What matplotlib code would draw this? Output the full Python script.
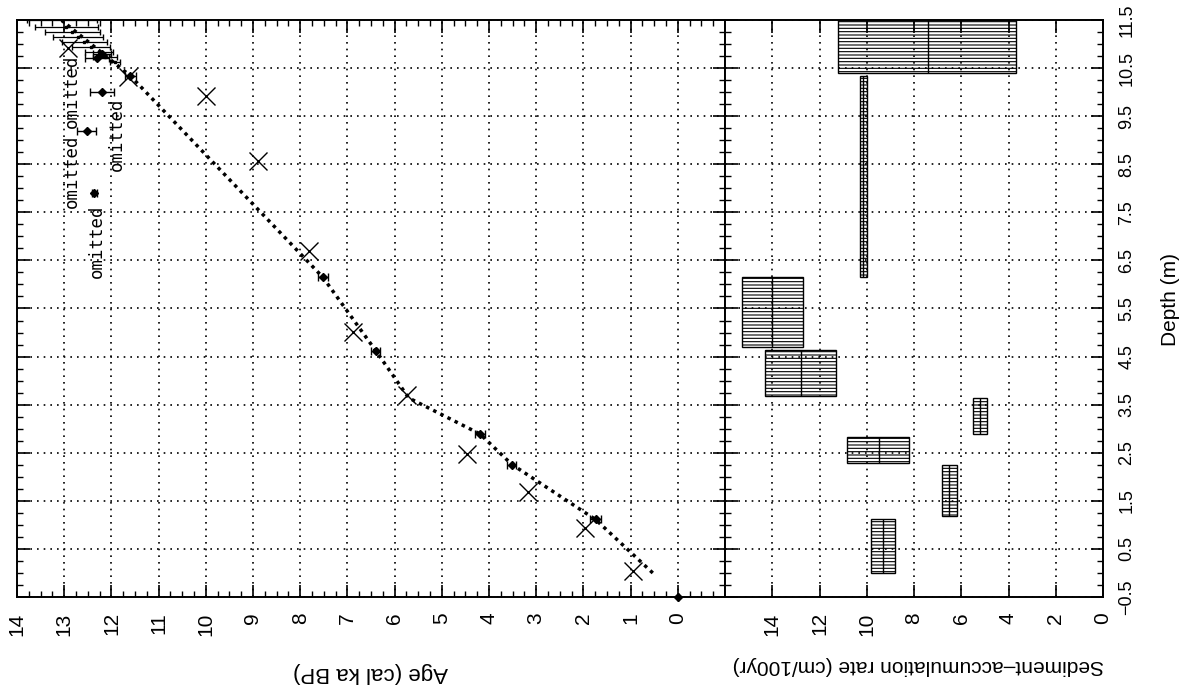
import numpy as np
import matplotlib.pyplot as plt
from matplotlib.ticker import FixedLocator, FixedFormatter, MultipleLocator

# Use Agg backend for headless environments
plt.switch_backend('Agg')
plt.rcParams['font.family'] = ['Liberation Sans', 'DejaVu Sans']
plt.rcParams['hatch.linewidth'] = 0.8

# radiocarbon ages (crosses), ka / m
c14_age = [0.95, 1.97, 3.18, 4.47, 5.74, 6.89, 7.82, 8.90, 10.0, 11.65, 12.92]
c14_depth = [0.04, 0.94, 1.68, 2.47, 3.70, 5.02, 6.70, 8.56, 9.92, 10.32, 10.92]

# age-depth model nodes
model_depth = [0.0, 1.11, 2.26, 2.89, 3.64, 4.65, 6.15, 10.34, 11.49]
model_age = [0.53, 1.74, 3.52, 4.19, 5.70, 6.42, 7.52, 11.60, 13.05]

# calibrated dates used by the model
cal_depth = [-0.5, 1.12, 2.25, 2.90, 4.62, 6.15, 10.34, 10.70, 10.80]
cal_age = [0.0, 1.74, 3.52, 4.19, 6.40, 7.52, 11.60, 12.30, 12.20]
cal_err = [0.0, 0.12, 0.10, 0.10, 0.10, 0.10, 0.12, 0.25, 0.20]

# model uncertainty at the base of the core
unc_depth = [10.63, 10.73, 10.84, 10.94, 11.05, 11.15, 11.26, 11.36, 11.49]
unc_old = [12.03, 12.39, 12.56, 12.84, 13.05, 13.24, 13.41, 13.62, 13.79]
unc_young = [11.82, 11.89, 11.97, 12.03, 12.10, 12.18, 12.25, 12.29, 12.31]

# omitted dates
om_depth = [10.0, 9.19, 7.91]
om_age = [12.2, 12.52, 12.36]
om_err = [0.25, 0.20, 0.06]
om_label_age = [12.84, 12.84, 12.31, 11.89]
om_label_depth = [8.35, 10.02, 6.90, 9.12]

# sediment-accumulation rate blocks (cm/100yr)
rate_dep_lo = [0.0, 1.19, 2.28, 2.89, 3.68, 4.70, 6.15, 10.40]
rate_dep_hi = [1.13, 2.24, 2.83, 3.64, 4.63, 6.15, 10.34, 11.50]
rate_lo = [8.8, 6.2, 8.2, 4.9, 11.3, 12.7, 10.0, 3.7]
rate_hi = [9.8, 6.8, 10.85, 5.5, 14.3, 15.3, 10.3, 11.2]
rate_mid = [9.3, 6.5, 9.5, 5.2, 12.8, 14.0, 10.15, 7.4]

depth_ticks = np.arange(-0.5, 12, 1.0)
depth_labels = ['\u22120.5'] + ['%.1f' % d for d in depth_ticks[1:]]

W, H = 1189, 698
fig = plt.figure(figsize=(W / 100, H / 100), dpi=100)
bot = 1 - 597 / H
hgt = 577 / H
ax1 = fig.add_axes([17 / W, bot, 708 / W, hgt])
ax2 = fig.add_axes([725 / W, bot, 378 / W, hgt])

grid_kw = dict(color='k', ls=(0, (1, 3)), lw=1.2)
for ax in (ax1, ax2):
    ax.set_ylim(-0.5, 11.5)
    ax.yaxis.set_major_locator(FixedLocator(depth_ticks))
    ax.yaxis.set_minor_locator(MultipleLocator(0.25))
    ax.grid(True, which='major', **grid_kw)
    ax.set_axisbelow(True)
    for s in ax.spines.values():
        s.set_linewidth(1.4)

# --- age panel ---
ax1.set_xlim(14, -1)
ax1.xaxis.set_major_locator(FixedLocator(range(0, 15)))
ax1.xaxis.set_minor_locator(MultipleLocator(0.25))
ax1.tick_params(axis='x', which='both', direction='in', top=True, bottom=True,
                labelrotation=90, pad=11, labelsize=15)
ax1.tick_params(axis='x', which='major', length=9, width=1.2)
ax1.tick_params(axis='x', which='minor', length=4.5, width=1.0)
ax1.tick_params(axis='y', which='both', direction='in', left=True, right=True,
                labelleft=False)
ax1.tick_params(axis='y', which='major', length=9, width=1.2)
ax1.tick_params(axis='y', which='minor', length=4.5, width=1.0)

ax1.plot(model_age, model_depth, color='k', lw=2.5, ls=(0, (1, 1.3)),
         dash_capstyle='butt', zorder=3)
ax1.plot(c14_age, c14_depth, ls='none', marker='x', ms=13, mew=1.0,
         color='k', zorder=4)
ax1.errorbar(cal_age, cal_depth, xerr=cal_err, fmt='D', ms=4, color='k',
             ecolor='k', elinewidth=1.0, capsize=3, zorder=5, clip_on=False)
unc_mid = [(o + y) / 2 for o, y in zip(unc_old, unc_young)]
unc_half = [(o - y) / 2 for o, y in zip(unc_old, unc_young)]
ax1.errorbar(unc_mid, unc_depth, xerr=unc_half, fmt='s', ms=1.5, color='k',
             elinewidth=0.9, capsize=2.5, zorder=4)
ax1.errorbar(om_age, om_depth, xerr=om_err, fmt='D', ms=4, color='k',
             elinewidth=1.0, capsize=3, zorder=5)
for a, d in zip(om_label_age, om_label_depth):
    ax1.text(a, d, 'omitted', rotation=90, ha='center', va='center',
             family='DejaVu Sans Mono', fontsize=12.5)

# --- sediment-accumulation rate panel ---
ax2.set_xlim(16, 0)
ax2.xaxis.set_major_locator(FixedLocator(range(0, 15, 2)))
ax2.tick_params(axis='x', which='major', direction='in', top=True, bottom=True,
                labelrotation=90, pad=11, labelsize=15, length=9, width=1.2)
ax2.yaxis.set_major_formatter(FixedFormatter(depth_labels))
ax2.tick_params(axis='y', which='both', direction='in', left=True, right=True,
                labelleft=False, labelright=True)
ax2.tick_params(axis='y', which='major', length=9, width=1.2,
                labelrotation=90, pad=11, labelsize=13)
ax2.tick_params(axis='y', which='minor', length=4.5, width=1.0)
for lbl in ax2.get_yticklabels():
    lbl.set_va('center')

widths = [h - l for l, h in zip(rate_lo, rate_hi)]
heights = [h - l for l, h in zip(rate_dep_lo, rate_dep_hi)]
centers = [(h + l) / 2 for l, h in zip(rate_dep_lo, rate_dep_hi)]
ax2.barh(centers, widths, height=heights, left=rate_lo, fill=False,
         edgecolor='k', lw=1.0, hatch='-----', zorder=3)
ax2.vlines(rate_mid, rate_dep_lo, rate_dep_hi, color='k', lw=1.0, zorder=3)

fig.text(371 / W, 1 - 672 / H, 'Age (cal ka BP)', rotation=180,
         ha='center', va='center', fontsize=16)
fig.text(918 / W, 1 - 666 / H, 'Sediment\u2013accumulation rate (cm/100yr)',
         rotation=180, ha='center', va='center', fontsize=15)
fig.text(1170 / W, 1 - 300 / H, 'Depth (m)', rotation=90,
         ha='center', va='center', fontsize=15)

fig.savefig('out.png', dpi=100)
